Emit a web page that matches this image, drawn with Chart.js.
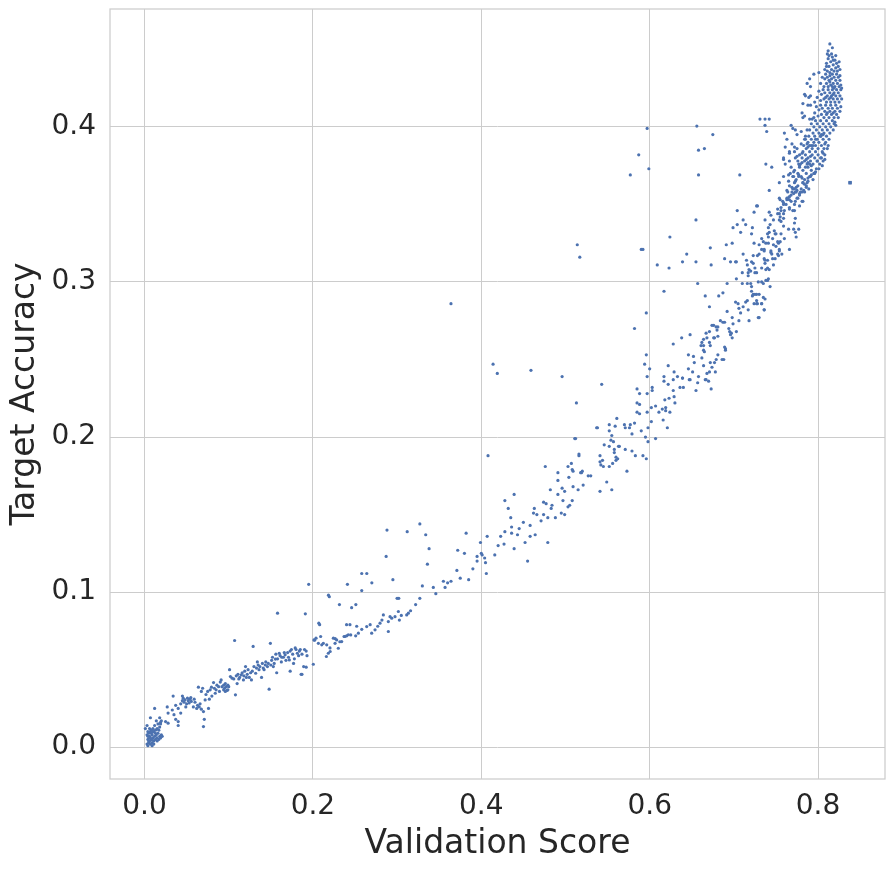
<!DOCTYPE html>
<html>
<head>
<meta charset="utf-8">
<script src="https://cdn.jsdelivr.net/npm/chart.js@4.4.1/dist/chart.umd.min.js"></script>
<style>
  body { margin: 0; background: #fff; }
  canvas { display: block; }
</style>
</head>
<body>
<canvas id="myChart" width="895" height="870"></canvas>
<script>
// [validation score, target accuracy]
const nearZero = [
    [0.003,0.002],[0.005,0.003],[0.004,0.005],[0.006,0.004],[0.007,0.002],[0.008,0.005],[0.006,0.007],[0.009,0.003],
    [0.010,0.006],[0.005,0.009],[0.007,0.010],[0.009,0.008],[0.011,0.004],[0.012,0.007],[0.008,0.011],[0.011,0.010],
    [0.013,0.005],[0.014,0.008],[0.010,0.012],[0.013,0.011],[0.015,0.006],[0.016,0.009],[0.017,0.005],[0.018,0.007],
    [0.019,0.006],[0.020,0.008],[0.021,0.007],[0.004,0.010],[0.003,0.008],[0.006,0.012],[0.001,0.012],[0.003,0.014],
    [0.012,0.014],[0.015,0.012],[0.016,0.015],[0.018,0.013],[0.019,0.016],[0.014,0.017],[0.007,0.019],[0.012,0.025],
    [0.018,0.019],[0.019,0.015],[0.009,0.001],[0.011,0.002],[0.004,0.001],[0.006,0.006],[0.008,0.009],[0.010,0.010],
    [0.013,0.009],[0.015,0.004],[0.017,0.011],[0.020,0.017],[0.005,0.004],[0.007,0.006],[0.009,0.005],[0.004,0.007]
]
const lowBand = [
    [0.025,0.0165],[0.028,0.0155],[0.027,0.026],[0.034,0.033],[0.028,0.022],[0.033,0.024],[0.035,0.021],[0.037,0.018],
    [0.040,0.0165],[0.040,0.014],[0.043,0.022],[0.037,0.027],[0.040,0.025],[0.043,0.028],[0.045,0.030],[0.046,0.0316],
    [0.047,0.029],[0.048,0.0305],[0.051,0.0316],[0.045,0.033],[0.0556,0.0295],[0.058,0.026],[0.059,0.031],[0.063,0.027],
    [0.064,0.0387],[0.065,0.026],[0.0675,0.0245],[0.070,0.023],[0.070,0.0133],[0.071,0.018],[0.0675,0.036],[0.069,0.038],
    [0.072,0.0305],[0.076,0.025],[0.077,0.031],[0.078,0.037],[0.0795,0.0387],[0.082,0.0417],[0.084,0.0348],[0.085,0.037],
    [0.088,0.039],[0.090,0.042],[0.091,0.0434],[0.094,0.040],[0.096,0.041],[0.098,0.0366],[0.101,0.050],[0.102,0.0456],
    [0.104,0.0445],[0.107,0.0688],[0.108,0.0338],[0.110,0.041],[0.113,0.045],[0.115,0.0467],[0.1175,0.0434],[0.120,0.052],
    [0.122,0.047],[0.1245,0.045],[0.127,0.0434],[0.129,0.065],[0.132,0.0477],[0.134,0.055],[0.136,0.050],[0.139,0.045],
    [0.141,0.051],[0.1435,0.053],[0.146,0.052],[0.148,0.0374],[0.1495,0.067],[0.151,0.056],[0.153,0.052],[0.1555,0.0568],
    [0.158,0.0864],[0.160,0.0606],[0.1625,0.055],[0.165,0.058],[0.167,0.0596],[0.170,0.061],[0.172,0.0563],[0.1745,0.063],
    [0.177,0.054],[0.179,0.064],[0.1815,0.0606],[0.184,0.062],[0.186,0.047],[0.189,0.052],[0.191,0.086],[0.192,0.062],
    [0.195,0.105],[0.095,0.038],[0.097,0.039],[0.099,0.040],[0.096,0.036],[0.099,0.037],[0.100,0.039],[0.094,0.037],
    [0.050,0.028],[0.052,0.030],[0.053,0.0285],[0.054,0.031],[0.049,0.026],[0.055,0.032],[0.060,0.029],[0.062,0.025],
    [0.066,0.028],[0.073,0.034],[0.075,0.036],[0.080,0.033],[0.083,0.038],[0.086,0.040],[0.089,0.036],[0.092,0.039],
    [0.106,0.044],[0.109,0.046],[0.111,0.047],[0.112,0.044],[0.116,0.048],[0.118,0.046],[0.119,0.049],[0.121,0.045],
    [0.123,0.050],[0.126,0.048],[0.128,0.049],[0.130,0.052],[0.133,0.051],[0.135,0.053],[0.137,0.052],[0.140,0.054],
    [0.142,0.050],[0.144,0.055],[0.147,0.054],[0.150,0.053],[0.152,0.058],[0.154,0.054],[0.156,0.060],[0.158,0.057],
    [0.161,0.059],[0.163,0.058],[0.166,0.061],[0.168,0.056],[0.171,0.058],[0.173,0.062],[0.176,0.060],[0.178,0.057],
    [0.180,0.063],[0.183,0.059],[0.185,0.063],[0.187,0.060],[0.190,0.063],[0.193,0.059],[0.157,0.048],[0.173,0.049],
    [0.187,0.047],[0.192,0.0516]
]
const midLowBand = [
    [0.2005,0.0535],[0.202,0.069],[0.208,0.079],[0.2185,0.098],[0.2195,0.097],[0.2315,0.092],[0.241,0.105],[0.2105,0.066],
    [0.216,0.0585],[0.2205,0.0617],[0.2265,0.070],[0.232,0.068],[0.238,0.0714],[0.242,0.0725],[0.2013,0.0692],[0.2037,0.0703],
    [0.2065,0.067],[0.2092,0.0714],[0.2124,0.067],[0.2164,0.066],[0.2183,0.0606],[0.2203,0.064],[0.2243,0.0703],[0.2263,0.067],
    [0.2282,0.0692],[0.2302,0.0638],[0.2342,0.0681],[0.2370,0.0714],[0.2401,0.0718],[0.2449,0.0724],[0.2508,0.0718],[0.254,0.0735],
    [0.2639,0.0778],[0.2698,0.0735],[0.2738,0.0757],[0.2797,0.080],[0.2837,0.0853],[0.2896,0.081],[0.2916,0.0842],[0.2936,0.0832],
    [0.2975,0.0842],[0.3015,0.0875],[0.3027,0.082],[0.3114,0.0853],[0.3134,0.0864],[0.2896,0.0746],[0.207,0.080],[0.240,0.079],
    [0.244,0.079],[0.252,0.078],[0.246,0.090],[0.251,0.092],[0.258,0.112],[0.264,0.112],[0.258,0.101],[0.270,0.106],
    [0.288,0.140],[0.287,0.123],[0.295,0.108],[0.312,0.139],[0.327,0.144],[0.334,0.137],[0.338,0.128],[0.336,0.118],
    [0.330,0.104],[0.343,0.103],[0.355,0.107],[0.300,0.096],[0.302,0.096],[0.327,0.096],[0.360,0.106],[0.364,0.107],
    [0.371,0.114],[0.385,0.108],[0.382,0.138],[0.372,0.127],[0.380,0.125],[0.364,0.286],[0.258,0.076],[0.268,0.079],
    [0.277,0.078],[0.282,0.082],[0.305,0.085],[0.316,0.088],[0.322,0.092],[0.346,0.099],[0.357,0.103],[0.375,0.109],
    [0.390,0.115]
]
const midBand = [
    [0.395,0.123],[0.395,0.120],[0.400,0.125],[0.401,0.124],[0.404,0.122],[0.405,0.119],[0.406,0.112],[0.399,0.132],
    [0.407,0.136],[0.416,0.124],[0.420,0.130],[0.427,0.131],[0.423,0.136],[0.428,0.139],[0.436,0.142],[0.436,0.138],
    [0.439,0.128],[0.443,0.137],[0.445,0.141],[0.450,0.145],[0.452,0.132],[0.455,0.120],[0.458,0.143],[0.458,0.136],
    [0.464,0.137],[0.428,0.159],[0.432,0.154],[0.435,0.148],[0.439,0.163],[0.462,0.151],[0.463,0.154],[0.466,0.150],
    [0.471,0.146],[0.474,0.150],[0.474,0.158],[0.477,0.157],[0.479,0.148],[0.479,0.132],[0.483,0.154],[0.482,0.166],
    [0.484,0.156],[0.488,0.148],[0.476,0.181],[0.491,0.177],[0.491,0.172],[0.491,0.163],[0.496,0.167],[0.495,0.151],
    [0.497,0.159],[0.499,0.165],[0.499,0.150],[0.503,0.181],[0.504,0.174],[0.503,0.155],[0.505,0.156],[0.507,0.183],
    [0.508,0.179],[0.509,0.178],[0.508,0.159],[0.509,0.168],[0.511,0.199],[0.515,0.166],[0.516,0.189],[0.518,0.177],
    [0.520,0.178],[0.521,0.169],[0.527,0.175],[0.530,0.175],[0.537,0.206],[0.541,0.188],[0.541,0.184],[0.542,0.182],
    [0.544,0.185],[0.545,0.181],[0.541,0.165],[0.546,0.195],[0.549,0.171],[0.552,0.208],[0.552,0.204],[0.552,0.194],
    [0.552,0.181],[0.555,0.201],[0.554,0.198],[0.557,0.197],[0.558,0.192],[0.558,0.190],[0.560,0.185],[0.560,0.187],
    [0.556,0.183],[0.555,0.166],[0.559,0.207],[0.561,0.212],[0.563,0.194],[0.564,0.194],[0.562,0.186],[0.408,0.188],
    [0.414,0.247],[0.419,0.241],[0.459,0.243],[0.496,0.239],[0.513,0.222],[0.543,0.234],[0.514,0.324],[0.517,0.316],
    [0.570,0.208],[0.571,0.206],[0.576,0.206],[0.577,0.208],[0.538,0.206],[0.571,0.192],[0.579,0.191],[0.583,0.188],
    [0.592,0.188],[0.596,0.186],[0.573,0.178],[0.585,0.231],[0.588,0.228],[0.585,0.222],[0.588,0.221],[0.585,0.216],
    [0.588,0.215],[0.582,0.209],[0.579,0.202],[0.590,0.204],[0.582,0.270],[0.596,0.280],[0.594,0.247],[0.596,0.253],
    [0.597,0.239],[0.600,0.244],[0.597,0.228],[0.603,0.232],[0.603,0.230],[0.595,0.200],[0.598,0.197],[0.598,0.206],
    [0.597,0.216],[0.602,0.219],[0.602,0.210],[0.607,0.220],[0.607,0.199],[0.516,0.188],[0.519,0.177],[0.512,0.199]
]
const upperBand = [
    [0.597,0.399],[0.656,0.4005],[0.675,0.395],[0.658,0.385],[0.665,0.386],[0.587,0.382],[0.599,0.373],[0.577,0.369],
    [0.658,0.369],[0.707,0.369],[0.731,0.405],[0.737,0.405],[0.742,0.405],[0.737,0.401],[0.739,0.397],[0.738,0.376],
    [0.745,0.374],[0.742,0.359],[0.754,0.364],[0.754,0.354],[0.655,0.340],[0.704,0.346],[0.724,0.345],[0.727,0.349],
    [0.590,0.321],[0.592,0.321],[0.624,0.329],[0.609,0.311],[0.623,0.309],[0.639,0.313],[0.644,0.318],[0.655,0.313],
    [0.672,0.322],[0.673,0.311],[0.657,0.299],[0.617,0.294],[0.666,0.291],[0.671,0.284],
    [0.689,0.315],[0.691,0.324],[0.696,0.313],[0.698,0.325],[0.702,0.313],[0.699,0.335],[0.704,0.337],[0.703,0.313],
    [0.708,0.332],[0.711,0.340],[0.714,0.337],[0.711,0.318],[0.715,0.314],[0.716,0.311],[0.717,0.306],[0.720,0.307],
    [0.721,0.313],[0.721,0.331],[0.722,0.335],[0.724,0.325],[0.723,0.317],[0.725,0.309],[0.727,0.306],[0.730,0.318],
    [0.730,0.324],[0.733,0.328],[0.735,0.326],[0.736,0.321],[0.736,0.320],[0.737,0.314],[0.738,0.308],[0.740,0.331],
    [0.741,0.325],[0.744,0.320],[0.745,0.318],[0.746,0.315],[0.742,0.308],[0.741,0.302],[0.743,0.297],[0.772,0.338],
    [0.773,0.341],[0.748,0.333],[0.750,0.331],[0.753,0.325],[0.750,0.323],[0.752,0.318],[0.754,0.320],[0.753,0.317],
    [0.747,0.311],[0.752,0.347],[0.754,0.344],[0.692,0.299],[0.703,0.302],[0.710,0.306],[0.710,0.299],[0.716,0.299],
    [0.721,0.297],[0.723,0.292],[0.725,0.292],[0.730,0.292],[0.729,0.300],[0.733,0.300],[0.735,0.299],[0.738,0.301],
    [0.682,0.291],[0.687,0.293],[0.702,0.287],[0.705,0.286],[0.706,0.283],[0.708,0.280],[0.711,0.284],[0.714,0.287],
    [0.716,0.288],[0.717,0.282],[0.718,0.275],[0.724,0.286],[0.727,0.288],[0.728,0.286],[0.733,0.286],[0.736,0.282],
    [0.737,0.289],[0.729,0.277],[0.730,0.277],[0.706,0.275],[0.698,0.277],[0.692,0.281],[0.684,0.275],[0.687,0.274],
    [0.679,0.271],[0.676,0.272],[0.671,0.268],[0.681,0.271],[0.694,0.270],[0.697,0.267],[0.698,0.264],[0.703,0.268],
    [0.681,0.265],[0.677,0.264],[0.667,0.267],[0.668,0.264],[0.664,0.263],[0.662,0.261],[0.664,0.259],[0.671,0.261],
    [0.672,0.259],[0.648,0.266],[0.638,0.264],[0.628,0.260],[0.664,0.256],[0.689,0.258],[0.690,0.256],[0.688,0.250],
    [0.681,0.253],[0.672,0.248],[0.674,0.245],[0.678,0.242],[0.671,0.242],[0.668,0.241],[0.666,0.237],[0.673,0.231],
    [0.662,0.251],[0.664,0.246],[0.646,0.253],[0.652,0.252],[0.653,0.248],[0.646,0.244],[0.651,0.242],[0.648,0.237],
    [0.658,0.239],[0.655,0.230],[0.622,0.246],[0.629,0.242],[0.633,0.239],[0.628,0.237],[0.628,0.230],[0.617,0.239],
    [0.617,0.236],[0.622,0.234],[0.636,0.232],[0.640,0.232],[0.639,0.238],[0.647,0.237],[0.629,0.226],[0.630,0.222],
    [0.623,0.225],[0.619,0.219],[0.618,0.224],[0.611,0.216],[0.615,0.218],[0.619,0.217],[0.624,0.216],[0.616,0.211],
    [0.621,0.206],[0.699,0.273],[0.695,0.268],[0.696,0.266],[0.689,0.274],[0.680,0.269],[0.674,0.272],[0.661,0.259],
    [0.665,0.255],[0.676,0.264],[0.690,0.257],[0.686,0.250],[0.679,0.250],[0.677,0.248],[0.667,0.237],[0.670,0.236],
    [0.657,0.235],[0.639,0.238],[0.721,0.294],[0.722,0.291],[0.727,0.292],[0.735,0.290],[0.733,0.286],[0.727,0.286],
    [0.736,0.282],[0.717,0.304],[0.725,0.306],[0.733,0.309],[0.723,0.312],[0.718,0.308],[0.740,0.301],[0.720,0.299],
    [0.759,0.379],[0.766,0.383],[0.773,0.380],[0.778,0.375],[0.781,0.377],[0.788,0.377],[0.792,0.375],[0.797,0.371],
    [0.792,0.369],[0.788,0.367],[0.782,0.364],[0.773,0.365],[0.771,0.368],[0.765,0.369],[0.777,0.369],[0.787,0.364],
    [0.784,0.363],[0.774,0.361],[0.773,0.358],[0.778,0.357],[0.776,0.354],[0.769,0.358],[0.763,0.359],[0.763,0.354],
    [0.755,0.353],[0.759,0.350],[0.766,0.353],[0.773,0.352],[0.772,0.346],[0.766,0.347],[0.759,0.344],[0.756,0.346],
    [0.755,0.342],[0.759,0.341],[0.756,0.339],[0.759,0.336],[0.765,0.334],[0.771,0.334],[0.777,0.334],[0.774,0.329],
    [0.760,0.328],[0.755,0.326],[0.766,0.321],[0.754,0.321],[0.757,0.318],[0.749,0.315],[0.744,0.319],[0.747,0.324],
    [0.752,0.326],[0.746,0.328],[0.741,0.329],[0.742,0.332],[0.741,0.335],[0.749,0.331],[0.756,0.331],[0.743,0.337],
    [0.747,0.340],[0.754,0.340],[0.752,0.344],[0.744,0.343],[0.737,0.340],[0.742,0.345],[0.728,0.349],[0.738,0.325],
    [0.733,0.321],[0.728,0.317],[0.736,0.315],[0.740,0.314],[0.740,0.309],[0.737,0.312],[0.773,0.332],[0.782,0.352],
    [0.781,0.358]
]
const topCluster = [
    [0.814,0.4535],[0.817,0.451],[0.812,0.449],[0.811,0.447],[0.813,0.446],[0.790,0.431],[0.795,0.434],[0.801,0.435],
    [0.787,0.428],[0.791,0.426],[0.784,0.421],[0.785,0.420],[0.789,0.419],[0.791,0.420],[0.782,0.415],[0.781,0.409],
    [0.784,0.407],[0.782,0.406],[0.788,0.414],[0.768,0.401],[0.770,0.399],[0.773,0.398],[0.838,0.364],
    [0.808,0.437],[0.810,0.441],[0.812,0.444],[0.813,0.439],[0.815,0.442],[0.816,0.437],[0.817,0.445],[0.818,0.440],
    [0.819,0.436],[0.820,0.443],[0.821,0.438],[0.822,0.441],[0.823,0.436],[0.824,0.439],[0.825,0.442],[0.814,0.435],
    [0.811,0.436],[0.818,0.443],[0.821,0.446],[0.816,0.447],[0.826,0.437],[0.810,0.439],
    [0.803,0.428],[0.805,0.432],[0.807,0.426],[0.808,0.431],[0.809,0.434],[0.810,0.428],[0.811,0.432],[0.812,0.426],
    [0.813,0.430],[0.814,0.433],[0.815,0.427],[0.816,0.431],[0.817,0.434],[0.818,0.428],[0.819,0.432],[0.820,0.426],
    [0.821,0.430],[0.822,0.434],[0.823,0.428],[0.824,0.432],[0.825,0.426],[0.826,0.430],[0.827,0.427],[0.819,0.425],
    [0.814,0.429],[0.817,0.426],[0.826,0.433],[0.828,0.425],
    [0.799,0.419],[0.801,0.423],[0.803,0.417],[0.804,0.421],[0.806,0.424],[0.807,0.418],[0.808,0.422],[0.810,0.416],
    [0.811,0.420],[0.812,0.424],[0.813,0.418],[0.814,0.422],[0.815,0.416],[0.816,0.420],[0.817,0.424],[0.818,0.418],
    [0.819,0.422],[0.820,0.416],[0.821,0.420],[0.822,0.424],[0.823,0.418],[0.824,0.422],[0.825,0.416],[0.826,0.420],
    [0.827,0.424],[0.828,0.418],[0.809,0.419],[0.815,0.419],[0.818,0.421],[0.796,0.416],[0.791,0.414],
    [0.796,0.409],[0.798,0.413],[0.800,0.407],[0.801,0.411],[0.803,0.414],[0.804,0.408],[0.805,0.412],[0.807,0.406],
    [0.808,0.410],[0.809,0.414],[0.810,0.408],[0.812,0.412],[0.813,0.406],[0.814,0.410],[0.815,0.414],[0.816,0.408],
    [0.817,0.412],[0.819,0.406],[0.820,0.410],[0.821,0.414],[0.822,0.408],[0.823,0.412],[0.824,0.406],[0.826,0.410],
    [0.827,0.413],[0.811,0.409],[0.818,0.409],[0.790,0.405],[0.793,0.405],[0.795,0.406],
    [0.790,0.398],[0.792,0.402],[0.794,0.396],[0.795,0.400],[0.797,0.404],[0.798,0.398],[0.799,0.402],[0.801,0.396],
    [0.802,0.400],[0.803,0.404],[0.805,0.398],[0.806,0.402],[0.807,0.396],[0.809,0.400],[0.810,0.404],[0.811,0.398],
    [0.813,0.402],[0.814,0.396],[0.815,0.400],[0.817,0.404],[0.818,0.398],[0.819,0.402],[0.820,0.403],[0.821,0.401],
    [0.804,0.395],[0.760,0.396],[0.775,0.395],[0.780,0.397],[0.785,0.394],[0.787,0.398],[0.803,0.394],[0.806,0.395],
    [0.783,0.388],[0.785,0.392],[0.786,0.386],[0.788,0.390],[0.789,0.394],[0.790,0.388],[0.792,0.392],[0.793,0.386],
    [0.795,0.390],[0.796,0.394],[0.797,0.388],[0.799,0.392],[0.800,0.386],[0.801,0.390],[0.803,0.394],[0.804,0.388],
    [0.806,0.392],[0.807,0.386],[0.809,0.390],[0.810,0.394],[0.812,0.388],[0.813,0.392],[0.787,0.389],[0.794,0.388],
    [0.763,0.392],[0.761,0.387],[0.769,0.389],[0.772,0.387],[0.784,0.392],[0.780,0.389],[0.811,0.386],[0.808,0.389],
    [0.776,0.378],[0.778,0.382],[0.779,0.376],[0.781,0.380],[0.782,0.384],[0.784,0.378],[0.785,0.382],[0.787,0.376],
    [0.788,0.380],[0.790,0.384],[0.791,0.378],[0.793,0.382],[0.794,0.376],[0.796,0.380],[0.797,0.384],[0.799,0.378],
    [0.800,0.382],[0.802,0.376],[0.803,0.380],[0.805,0.384],[0.806,0.378],[0.808,0.382],[0.775,0.386],[0.772,0.384],
    [0.766,0.384],[0.759,0.380],[0.761,0.376],[0.766,0.378],[0.768,0.374],[0.775,0.381],[0.781,0.383],[0.788,0.387],
    [0.792,0.388],[0.797,0.392],[0.806,0.383],[0.804,0.380],[0.808,0.379],[0.805,0.375],[0.801,0.373],[0.799,0.378],
    [0.770,0.368],[0.772,0.372],[0.774,0.366],[0.776,0.370],[0.778,0.374],[0.780,0.368],[0.782,0.372],[0.784,0.366],
    [0.786,0.370],[0.788,0.374],[0.790,0.368],[0.792,0.372],[0.794,0.366],[0.796,0.370],[0.798,0.373],[0.795,0.370],
    [0.791,0.368],[0.788,0.365],[0.786,0.361],[0.783,0.359],[0.779,0.358],[0.775,0.359],[0.772,0.360],[0.771,0.357],
    [0.766,0.355],[0.763,0.353],[0.759,0.351],[0.769,0.361],[0.765,0.365],[0.759,0.368],[0.767,0.370],[0.771,0.371],
    [0.777,0.368],[0.781,0.367],[0.785,0.374],[0.790,0.376],[0.791,0.381],[0.786,0.379],[0.777,0.376],
    [0.764,0.358],[0.766,0.362],[0.768,0.356],[0.770,0.360],[0.772,0.364],[0.774,0.358],[0.776,0.362],[0.778,0.356],
    [0.780,0.360],[0.782,0.364],[0.784,0.358],[0.786,0.362],[0.789,0.360],
    [0.756,0.348],[0.758,0.352],[0.760,0.346],[0.762,0.350],[0.764,0.354],[0.766,0.348],[0.768,0.352],[0.770,0.346],
    [0.772,0.350],[0.775,0.354],[0.778,0.349],[0.781,0.352]
]
const outlierPoint = [[0.838,0.364]]

const xTicks = [0.0, 0.2, 0.4, 0.6, 0.8]
const yTicks = [0.0, 0.1, 0.2, 0.3, 0.4]

const pointColor = '#4c72b0'
const textColor = '#262626'
const gridColor = '#cccccc'

function toXY(list) {
    return list.map(p => ({ x: p[0], y: p[1] }))
}

const allPoints = [].concat(nearZero, lowBand, midLowBand, midBand, upperBand, topCluster)

// frame on all four sides, like the seaborn whitegrid spines
const framePlugin = {
    id: 'frame',
    afterDraw(chart) {
        const { ctx, chartArea } = chart
        ctx.save()
        ctx.strokeStyle = gridColor
        ctx.lineWidth = 1.25
        ctx.strokeRect(chartArea.left, chartArea.top, chartArea.right - chartArea.left, chartArea.bottom - chartArea.top)
        ctx.restore()
    }
}

Chart.defaults.font.family = "'DejaVu Sans', sans-serif"
Chart.defaults.color = textColor

new Chart(document.getElementById('myChart'), {
    type: 'scatter',
    data: {
        datasets: [
            {
                data: toXY(allPoints),
                backgroundColor: pointColor,
                borderWidth: 0,
                pointRadius: 1.6,
                pointHoverRadius: 1.6
            },
            {
                data: toXY(outlierPoint),
                backgroundColor: pointColor,
                borderWidth: 0,
                pointStyle: 'rect',
                pointRadius: 2.5,
                pointHoverRadius: 2.5
            }
        ]
    },
    options: {
        responsive: false,
        animation: false,
        layout: { padding: { left: 0, top: 9, right: 10, bottom: 0 } },
        plugins: {
            legend: { display: false },
            tooltip: { enabled: false }
        },
        scales: {
            x: {
                type: 'linear',
                min: -0.041,
                max: 0.8795,
                afterBuildTicks: scale => { scale.ticks = xTicks.map(v => ({ value: v })) },
                afterFit: scale => {
                    scale.height = 91
                    scale.paddingLeft = 0
                    scale.paddingRight = 0
                },
                ticks: {
                    padding: 11,
                    font: { size: 28 },
                    color: textColor,
                    maxRotation: 0,
                    callback: v => v.toFixed(1)
                },
                grid: { color: gridColor, lineWidth: 1, drawTicks: false },
                border: { display: false },
                title: {
                    display: true,
                    text: 'Validation Score',
                    font: { size: 33 },
                    color: textColor,
                    padding: { top: 0, bottom: 6 }
                }
            },
            y: {
                type: 'linear',
                min: -0.0205,
                max: 0.476,
                afterBuildTicks: scale => { scale.ticks = yTicks.map(v => ({ value: v })) },
                afterFit: scale => {
                    scale.width = 110
                    scale.paddingTop = 0
                    scale.paddingBottom = 0
                },
                ticks: {
                    padding: 14,
                    font: { size: 28 },
                    color: textColor,
                    callback: v => v.toFixed(1)
                },
                grid: { color: gridColor, lineWidth: 1, drawTicks: false },
                border: { display: false },
                title: {
                    display: true,
                    text: 'Target Accuracy',
                    font: { size: 33 },
                    color: textColor,
                    padding: { top: 6, bottom: 0 }
                }
            }
        }
    },
    plugins: [framePlugin]
})
</script>
</body>
</html>
